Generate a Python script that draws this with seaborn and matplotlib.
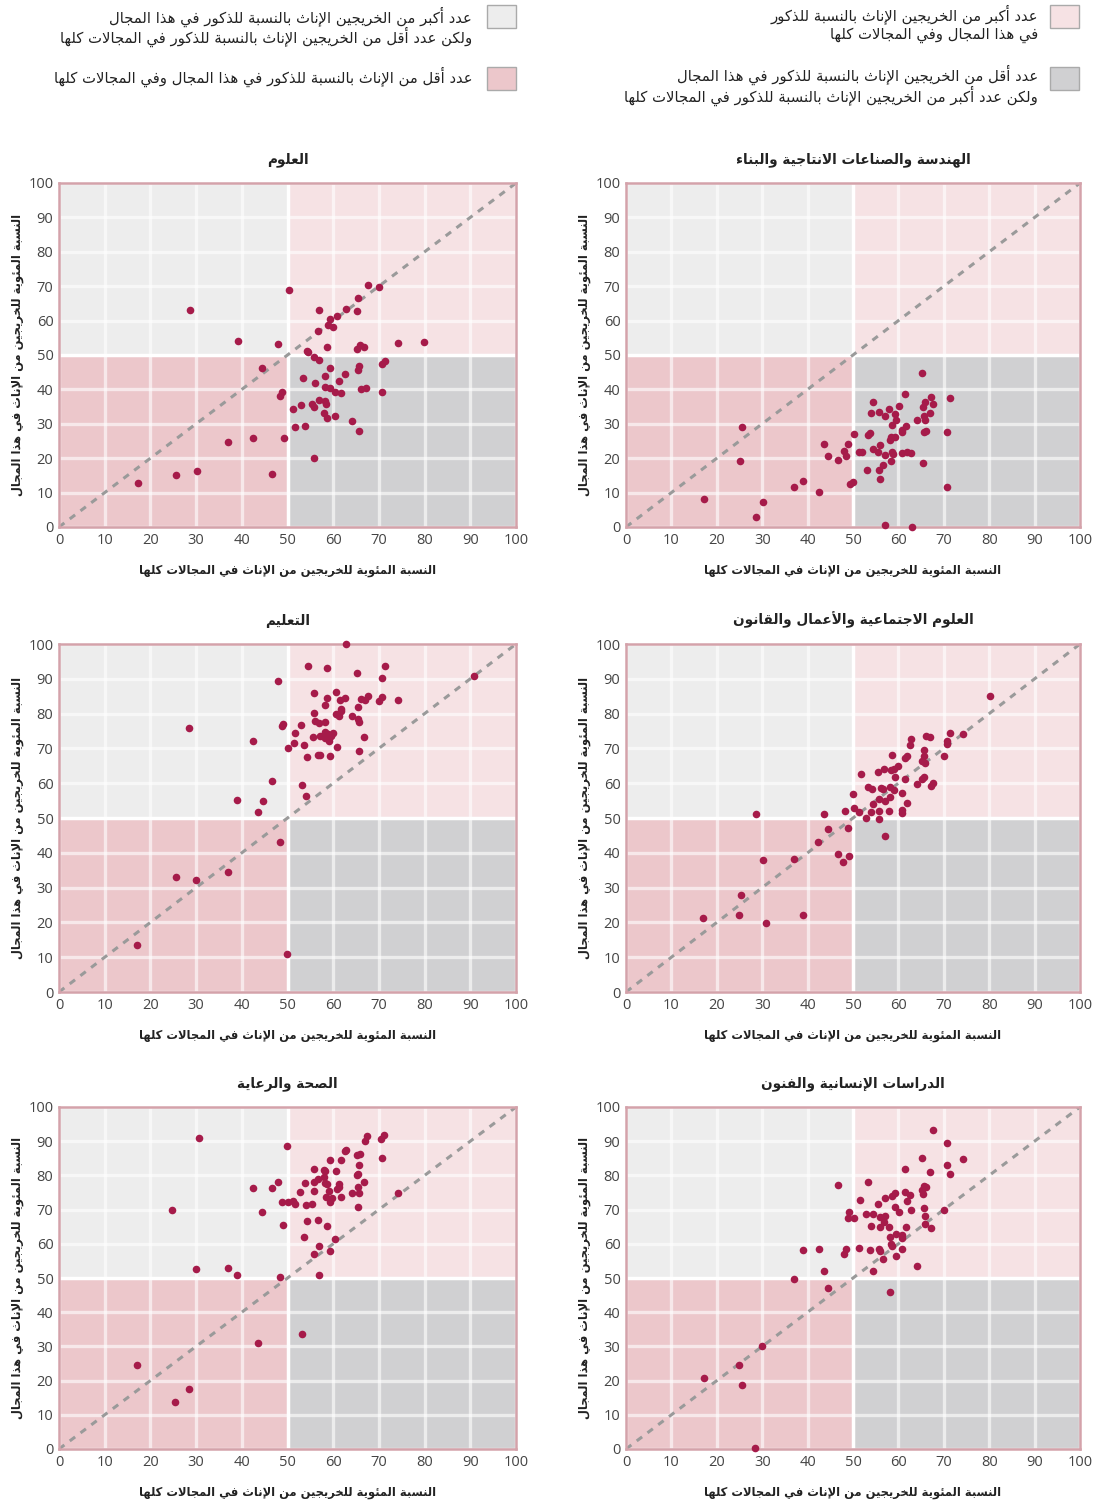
import matplotlib
matplotlib.use("Agg")
import matplotlib.pyplot as plt
from matplotlib.patches import Rectangle
import seaborn as sns

# ---------------- data ----------------
sci_x = [17.2,25.5,30.1,28.6,36.9,39.1,42.5,44.5,46.7,48.0,48.4,48.8,49.2,50.3,51.3,51.7,52.9,53.3,53.9,54.3,54.5,55.4,55.8,55.8,55.9,56.0,56.6,56.9,57.0,56.8,57.9,58.1,58.1,58.2,58.4,58.6,58.7,58.9,59.2,59.4,59.4,59.9,60.5,60.5,60.8,61.2,61.8,62.5,62.8,64.1,65.1,65.3,65.4,65.4,65.7,65.6,65.8,66.1,66.8,67.1,67.7,70.0,70.6,70.7,71.3,74.2,79.9]
sci_y = [12.8,15.0,16.4,63.1,24.6,54.1,25.8,46.1,15.4,53.1,38.2,39.2,26.0,68.9,34.3,29.1,35.4,43.4,29.4,51.1,50.8,35.9,20.1,49.4,34.8,42.0,57.0,48.6,63.1,36.9,33.2,43.8,36.5,40.8,35.9,52.3,31.7,58.6,46.3,60.6,40.5,58.0,39.1,32.3,61.3,42.4,38.9,44.5,63.5,30.8,51.8,62.9,66.5,45.6,46.8,27.8,53.0,40.2,52.3,40.4,70.4,69.8,39.3,47.3,48.4,53.4,53.7]

eng_x = [17.2,25.0,25.5,28.7,30.2,37.1,39.0,42.6,43.7,44.6,46.7,48.0,48.4,48.9,49.3,49.9,50.3,51.3,51.9,53.0,53.4,53.7,54.0,54.3,54.5,55.4,55.8,56.0,56.0,55.7,56.7,57.0,57.0,57.1,57.9,58.1,58.3,58.4,58.6,58.7,58.9,59.3,59.5,59.2,60.1,60.7,60.8,60.8,61.4,61.7,61.9,62.7,62.9,64.1,65.2,65.4,65.5,65.7,65.8,65.8,65.7,66.1,66.9,67.2,67.7,70.6,70.8,71.3]
eng_y = [8.2,19.3,29.2,2.8,7.2,11.5,13.5,10.3,24.2,20.6,19.6,22.1,20.5,24.2,12.5,13.0,26.9,21.9,21.7,16.7,26.6,27.2,33.1,36.2,22.6,21.8,16.7,23.9,14.0,33.5,18.0,21.0,32.2,0.7,34.3,25.4,19.1,26.3,21.7,29.7,21.3,32.8,31.2,26.3,35.3,27.5,28.2,21.6,38.6,29.4,21.7,21.5,0.0,31.2,44.8,18.6,35.0,32.4,36.2,31.1,27.6,27.9,33.2,37.7,35.7,27.5,11.5,37.4]

edu_x = [17.1,25.5,30.0,28.5,36.9,39.0,42.4,43.6,44.6,46.7,47.9,48.3,48.9,49.1,49.9,50.2,51.4,51.6,52.9,53.2,53.7,54.0,54.3,54.4,55.5,55.8,55.9,56.0,56.8,56.7,57.1,57.2,58.1,58.1,58.3,58.3,58.6,58.7,58.9,59.1,59.4,59.6,59.9,60.6,60.7,60.9,61.3,61.5,61.8,61.8,62.5,62.8,64.1,65.2,65.4,65.4,65.7,65.7,66.1,66.8,67.0,67.6,70.1,70.6,70.7,71.3,74.2,90.8]
edu_y = [13.5,33.1,32.3,75.8,34.4,55.3,72.1,51.6,54.8,60.5,89.5,43.0,76.4,76.9,10.9,70.0,71.6,74.5,76.8,59.4,71.0,56.2,67.6,93.7,73.3,85.9,80.1,77.9,77.2,68.1,68.2,73.5,74.6,73.1,82.6,77.6,93.1,84.4,74.2,72.1,67.9,73.6,74.3,86.2,80.0,70.4,79.3,84.0,81.4,80.7,84.6,100.0,79.2,91.8,81.8,78.5,77.6,69.3,84.1,73.2,83.9,85.0,83.5,90.1,84.9,93.7,84.0,90.9]

soc_x = [17.0,24.8,25.4,28.6,30.1,30.8,37.0,39.0,42.4,43.6,44.5,46.7,47.9,48.3,48.9,49.2,50.0,50.3,51.4,51.7,52.9,53.4,53.9,54.2,54.4,55.4,55.8,55.8,55.8,56.1,56.7,56.8,57.0,57.1,57.9,58.1,58.2,58.3,58.6,59.0,59.1,59.3,60.0,60.8,60.7,60.9,61.5,61.5,61.9,61.8,62.5,62.8,64.2,65.2,65.2,65.6,65.6,65.7,65.8,66.1,67.0,67.2,67.6,70.1,70.6,70.8,71.4,74.2,80.1]
soc_y = [21.3,22.1,27.8,51.2,37.9,19.8,38.3,22.1,43.2,51.1,46.9,39.6,37.5,51.9,47.2,39.0,57.0,52.8,51.6,62.6,49.9,59.0,51.8,58.3,53.9,63.2,55.4,51.9,49.6,58.7,58.4,64.2,44.8,55.0,52.1,58.9,56.1,63.7,68.1,58.0,64.0,61.9,64.9,57.3,52.4,51.3,61.1,67.1,67.7,54.4,71.0,72.8,59.8,61.2,66.3,69.4,67.9,61.9,65.8,73.6,73.3,59.2,60.0,67.9,72.0,71.4,74.3,74.1,85.0]

hea_x = [17.0,25.3,28.4,24.8,29.9,30.7,36.9,38.9,42.4,43.5,44.4,46.6,47.9,48.3,48.8,49.0,49.9,50.2,51.2,51.6,52.7,53.2,53.6,53.8,54.1,54.3,55.3,55.7,55.8,55.9,55.9,56.6,56.7,56.8,56.9,57.9,58.0,58.2,58.2,58.5,58.6,58.7,59.1,59.2,59.2,59.3,59.8,60.4,60.6,60.8,61.2,61.3,61.6,61.8,62.5,62.8,64.1,65.1,65.2,65.4,65.4,65.4,65.6,65.7,65.9,66.7,67.0,67.5,70.4,70.7,71.2,74.2]
hea_y = [24.5,13.8,17.4,70.0,52.6,91.0,53.0,51.0,76.2,30.9,69.4,76.4,78.0,50.2,72.2,65.6,88.7,72.3,72.6,71.7,75.1,33.7,62.0,77.8,71.2,66.8,71.7,57.0,75.3,81.8,78.0,67.0,78.9,59.5,51.0,81.7,79.4,81.4,77.8,73.7,65.3,77.5,75.3,57.8,72.2,84.4,73.4,61.3,81.4,76.0,77.5,76.6,73.6,84.4,87.1,87.5,74.9,86.1,80.1,80.5,76.7,70.7,74.9,82.9,86.2,78.2,90.0,91.4,90.6,85.2,91.9,75.0]

hum_x = [17.1,24.8,25.5,28.5,30.0,37.0,39.0,42.5,43.7,44.6,46.8,48.0,48.4,48.9,49.2,50.3,51.4,51.6,52.9,53.3,53.7,54.0,54.3,54.4,55.4,55.8,55.9,55.9,56.0,56.7,56.8,57.0,57.1,57.9,58.1,58.2,58.3,58.6,58.6,59.2,59.3,59.4,59.5,60.1,60.7,60.7,60.8,61.4,61.4,61.7,62.0,62.6,62.8,64.1,65.2,65.3,65.5,65.6,65.6,65.8,65.9,66.1,66.9,67.1,67.7,70.1,70.6,70.8,71.3,74.2]
hum_y = [20.7,24.6,18.8,0.2,30.2,49.8,58.3,58.4,52.1,47.0,77.1,56.9,58.5,67.5,69.4,67.4,58.7,72.8,68.8,78.2,58.2,65.1,52.0,68.8,71.5,58.4,64.8,57.8,67.9,55.6,66.3,73.4,68.0,64.9,62.1,45.8,60.0,74.0,59.3,70.8,74.8,63.0,56.4,69.4,62.7,58.6,61.6,81.8,75.1,64.8,72.5,74.4,69.9,53.6,85.0,75.7,74.7,77.0,70.6,68.0,65.7,76.6,81.1,64.5,93.2,69.9,83.1,89.4,80.5,84.7]

titles = {
    "sci": "العلوم",
    "eng": "الهندسة والصناعات الانتاجية والبناء",
    "edu": "التعليم",
    "soc": "العلوم الاجتماعية والأعمال والقانون",
    "hea": "الصحة والرعاية",
    "hum": "الدراسات الإنسانية والفنون",
}
x_label = "النسبة المئوية للخريجين من الإناث في المجالات كلها"
y_label = "النسبة المئوية للخريجين من الإناث في هذا المجال"
tick_values = [0, 10, 20, 30, 40, 50, 60, 70, 80, 90, 100]

legend_texts = [
    ["عدد أكبر من الخريجين الإناث بالنسبة للذكور", "في هذا المجال وفي المجالات كلها"],
    ["عدد أقل من الخريجين الإناث بالنسبة للذكور في هذا المجال",
     "ولكن عدد أكبر من الخريجين الإناث بالنسبة للذكور في المجالات كلها"],
    ["عدد أكبر من الخريجين الإناث بالنسبة للذكور في هذا المجال",
     "ولكن عدد أقل من الخريجين الإناث بالنسبة للذكور في المجالات كلها"],
    ["عدد أقل من الإناث بالنسبة للذكور في هذا المجال وفي المجالات كلها"],
]

SPLIT = 50
LIM = 100

# ---------------- Arabic shaping (presentation forms + visual order) ----------------
_counts = [1,2,2,2,2,4,2,4,2,4,4,4,4,4,2,2,2,2,4,4,4,4,4,4,4,4,
           4,4,4,4,4,4,4,2,2,4]
_letters = [chr(c) for c in range(0x0621, 0x063B)] + [chr(c) for c in range(0x0641, 0x064B)]
FORMS = {}
JOIN = {}
_cp = 0xFE80
for _l, _n in zip(_letters, _counts):
    fs = [chr(_cp + k) for k in range(_n)]
    _cp += _n
    iso = fs[0]
    fin = fs[1] if _n > 1 else fs[0]
    ini = fs[2] if _n == 4 else None
    med = fs[3] if _n == 4 else None
    FORMS[_l] = (iso, fin, ini, med)
    JOIN[_l] = {1: 0, 2: 1, 4: 2}[_n]
LAM = "\u0644"
LAM_ALEF = {"\u0622": ("\uFEF5", "\uFEF6"), "\u0623": ("\uFEF7", "\uFEF8"),
            "\u0625": ("\uFEF9", "\uFEFA"), "\u0627": ("\uFEFB", "\uFEFC")}


def shape_line(s):
    out = []
    n = len(s)
    i = 0
    while i < n:
        c = s[i]
        prev_dual = i > 0 and JOIN.get(s[i - 1], 0) == 2
        if c == LAM and i + 1 < n and s[i + 1] in LAM_ALEF:
            iso, fin = LAM_ALEF[s[i + 1]]
            out.append(fin if prev_dual else iso)
            i += 2
            continue
        if c in FORMS:
            jt = JOIN[c]
            jp = prev_dual and jt >= 1
            jn = jt == 2 and i + 1 < n and JOIN.get(s[i + 1], 0) >= 1
            iso, fin, ini, med = FORMS[c]
            if jp and jn:
                out.append(med)
            elif jn:
                out.append(ini)
            elif jp:
                out.append(fin)
            else:
                out.append(iso)
        else:
            out.append(c)
        i += 1
    return "".join(reversed(out))


def ar(s):
    return "\n".join(shape_line(l) for l in s.split("\n"))


# ---------------- style ----------------
sns.set_style("white")
plt.rcParams["font.family"] = ["DejaVu Sans"]

C_UL = "#ededed"
C_UR = "#f6e2e4"
C_LL = "#ecc7cb"
C_LR = "#d0d0d2"
C_EDGE = "#d4a2aa"
C_PT = "#a61b4a"

W, H = 1097, 1500
fig = plt.figure(figsize=(W / 100, H / 100), dpi=100)

# panel boxes (left, top, right, bottom) in pixels
cols = [(59, 516), (626, 1080)]
rows = [(183, 527), (644, 992), (1107, 1449)]
layout = [("sci", 0, 0), ("eng", 0, 1), ("edu", 1, 0), ("soc", 1, 1), ("hea", 2, 0), ("hum", 2, 1)]
data = {"sci": (sci_x, sci_y), "eng": (eng_x, eng_y), "edu": (edu_x, edu_y),
        "soc": (soc_x, soc_y), "hea": (hea_x, hea_y), "hum": (hum_x, hum_y)}

for key, r, c in layout:
    l, rr = cols[c]
    t, b = rows[r]
    ax = fig.add_axes([l / W, 1 - b / H, (rr - l) / W, (b - t) / H])
    ax.set_xlim(0, LIM)
    ax.set_ylim(0, LIM)
    ax.fill_between([0, SPLIT], SPLIT, LIM, color=C_UL, lw=0, zorder=0.1)
    ax.fill_between([SPLIT, LIM], SPLIT, LIM, color=C_UR, lw=0, zorder=0.1)
    ax.fill_between([0, SPLIT], 0, SPLIT, color=C_LL, lw=0, zorder=0.1)
    ax.fill_between([SPLIT, LIM], 0, SPLIT, color=C_LR, lw=0, zorder=0.1)
    ax.set_axisbelow(True)
    ax.grid(True, color="white", lw=2.4, alpha=0.6)
    ax.axhline(SPLIT, color="white", lw=2.4, zorder=0.7)
    ax.axvline(SPLIT, color="white", lw=2.4, zorder=0.7)
    ax.axline((0, 0), slope=1, color="#9a9a9a", lw=2.2, ls=(0, (2.2, 2.2)), zorder=1)
    xs, ys = data[key]
    sns.scatterplot(x=xs, y=ys, ax=ax, color=C_PT, s=30, linewidth=0, zorder=3, clip_on=False)
    ax.set_xticks(tick_values)
    ax.set_yticks(tick_values)
    ax.tick_params(length=0, labelsize=10.5, labelcolor="#444444", pad=4)
    for lbl in ax.get_xticklabels() + ax.get_yticklabels():
        lbl.set_fontfamily("Open Sans")
    for sp in ax.spines.values():
        sp.set_visible(True)
        sp.set_color(C_EDGE)
        sp.set_linewidth(1.8)
    ax.set_title(ar(titles[key]), fontweight="bold", fontsize=9.8, pad=14, color="#222222")
    ax.set_xlabel(ar(x_label), fontweight="bold", fontsize=8.3, labelpad=12, color="#222222")
    ax.set_ylabel(ar(y_label), fontweight="bold", fontsize=8.3, labelpad=3, color="#222222")

# ---------------- legend ----------------
legend_items = [
    # (patch x0, patch y0, color, text right x, line ys, texts)
    (1050, 5, C_UR, 1038, [14, 35], legend_texts[0]),
    (1050, 67, C_LR, 1038, [75, 96], legend_texts[1]),
    (487, 5, C_UL, 472, [17, 37], legend_texts[2]),
    (487, 67, C_LL, 472, [77], legend_texts[3]),
]
for px, py, col, tx, lys, lines in legend_items:
    fig.add_artist(Rectangle((px / W, 1 - (py + 23) / H), 29 / W, 23 / H,
                             transform=fig.transFigure, facecolor=col,
                             edgecolor="#aaaaaa", lw=1.0))
    for ly, line in zip(lys, lines):
        fig.text(tx / W, 1 - ly / H, ar(line), ha="right", va="center",
                 fontsize=10.6, color="#222222")

fig.savefig("out.png", dpi=100)
